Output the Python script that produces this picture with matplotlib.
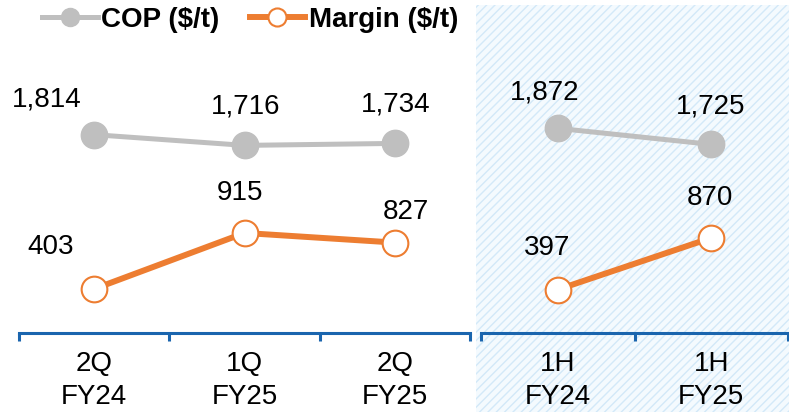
import matplotlib
matplotlib.use("Agg")
import matplotlib.pyplot as plt
from matplotlib.patches import Rectangle

plt.rcParams['font.family'] = ['Liberation Sans', 'DejaVu Sans']
plt.rcParams['hatch.linewidth'] = 1.0

# ---- data ----
left_categories = ["2Q\nFY24", "1Q\nFY25", "2Q\nFY25"]
left_cop = [1814, 1716, 1734]
left_margin = [403, 915, 827]

right_categories = ["1H\nFY24", "1H\nFY25"]
right_cop = [1872, 1725]
right_margin = [397, 870]

series_names = ["COP ($/t)", "Margin ($/t)"]

# ---- style ----
GRAY = "#BFBFBF"
ORANGE = "#ED7D31"
BLUE = "#1A65AE"
W, H = 789, 412
DPI = 100

fig = plt.figure(figsize=(W / DPI, H / DPI), dpi=DPI)

# shaded background for half-year panel
bg = Rectangle((476 / W, 0), 1 - 476 / W, (H - 5) / H, transform=fig.transFigure,
               facecolor="#F4FAFE", edgecolor="#D3E9F8", hatch="////", linewidth=0,
               zorder=-10)
fig.patches.append(bg)

y_bottom = (H - 333) / H
y_height = (333 - 5) / H
ylim = (0, 3000)

ax_l = fig.add_axes([19 / W, y_bottom, 451 / W, y_height])
ax_r = fig.add_axes([481 / W, y_bottom, 307 / W, y_height])

label_offsets_left = {
    "cop": [(-47, 35), (1, 39), (1, 39)],
    "margin": [(-44, 42), (-4, 40), (11, 31)],
}
label_offsets_right = {
    "cop": [(-13, 36), (-1, 38)],
    "margin": [(-11, 42), (-1, 40)],
}

FS = 20


def draw(ax, cats, cop, margin, offsets):
    x = list(range(len(cats)))
    l1, = ax.plot(x, cop, color=GRAY, lw=3.6, marker="o", ms=19,
                  markerfacecolor=GRAY, markeredgecolor=GRAY, label=series_names[0],
                  clip_on=False)
    l2, = ax.plot(x, margin, color=ORANGE, lw=4.3, marker="o", ms=18.5,
                  markerfacecolor="white", markeredgecolor=ORANGE, markeredgewidth=1.5,
                  label=series_names[1], clip_on=False)
    for xi, v, (dx, dy) in zip(x, cop, offsets["cop"]):
        ax.annotate(f"{v:,}", (xi, v), xytext=(dx, dy), textcoords="offset pixels",
                    ha="center", va="center", fontsize=FS, color="black")
    for xi, v, (dx, dy) in zip(x, margin, offsets["margin"]):
        ax.annotate(f"{v:,}", (xi, v), xytext=(dx, dy), textcoords="offset pixels",
                    ha="center", va="center", fontsize=FS, color="black")
    ax.set_xlim(-0.5, len(cats) - 0.5)
    ax.set_ylim(*ylim)
    ax.set_facecolor("none")
    for s in ["left", "right", "top"]:
        ax.spines[s].set_visible(False)
    ax.spines["bottom"].set_color(BLUE)
    ax.spines["bottom"].set_linewidth(2.2)
    ax.set_yticks([])
    ax.set_xticks([i - 0.5 for i in range(len(cats) + 1)])
    ax.set_xticklabels([])
    ax.tick_params(axis="x", which="major", direction="out", length=6, width=2.2,
                   color=BLUE)
    ax.set_xticks(x, minor=True)
    ax.set_xticklabels(cats, minor=True, fontsize=FS, linespacing=1.36)
    ax.tick_params(axis="x", which="minor", length=0, pad=13)
    return l1, l2


h1, h2 = draw(ax_l, left_categories, left_cop, left_margin, label_offsets_left)
draw(ax_r, right_categories, right_cop, right_margin, label_offsets_right)

leg = fig.legend([h1, h2], series_names, loc="center left",
                 bbox_to_anchor=(42 / W, (H - 20) / H), ncol=2, frameon=False,
                 borderpad=0, borderaxespad=0, handlelength=2.0, handletextpad=0.12,
                 columnspacing=1.1, prop={"weight": "bold", "size": 20})
for hl in leg.legend_handles:
    hl.set_markersize(13)

fig.savefig("out.png", dpi=DPI)
